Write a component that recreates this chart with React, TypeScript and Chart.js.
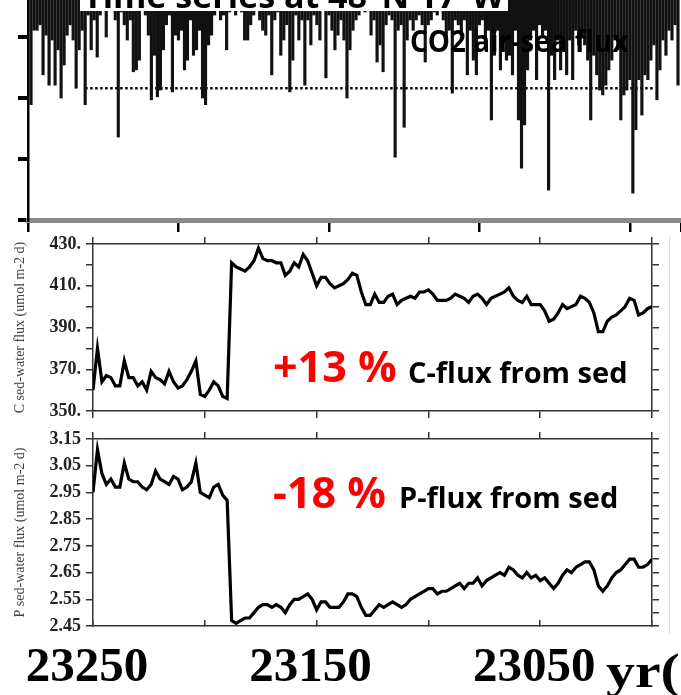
import React, { useEffect, useRef } from 'react';
import { Chart, registerables } from 'chart.js';

Chart.register(...registerables);

// ---------------- data ----------------
// CO2 air-sea flux (negative = uptake), one bar per time step
const TOP_FLUX = [
  -2.11, -0.89, -0.89, -0.80, -1.62, -0.97, -1.79, -1.05, -1.79, -1.21,
  -2.00, -1.46, -0.97, -0.80, -1.05, -1.84, -1.21, -0.89, -2.11, -0.64,
  -1.21, -0.72, -1.33, -0.64, -0.56, -1.00, -0.56, -0.48, -0.72, -2.64,
  -0.59, -0.80, -1.05, -0.72, -1.57, -1.54, -1.38, -0.56, -0.64, -0.97,
  -2.03, -1.30, -1.98, -1.87, -1.21, -0.80, -0.64, -1.90, -0.97, -1.05,
  -0.89, -1.54, -1.38, -0.72, -1.30, -1.21, -0.89, -2.00, -2.11, -1.13,
  -0.97, -0.64, -0.56, -0.72, -0.64, -1.21, -0.59, -0.56, -0.64, -0.52,
  -0.59, -1.05, -1.05, -0.80, -0.64, -0.56, -0.72, -0.89, -0.97, -0.64,
  -1.62, -0.72, -0.59, -1.30, -1.05, -0.80, -1.90, -1.38, -0.64, -1.05,
  -0.72, -1.79, -0.72, -1.13, -0.64, -0.80, -1.05, -0.56, -1.67, -0.64,
  -0.89, -1.21, -0.97, -0.72, -1.05, -2.00, -1.21, -0.89, -0.72, -0.64,
  -0.56, -0.59, -0.56, -0.97, -0.72, -1.41, -1.13, -1.57, -0.80, -0.64,
  -0.72, -2.97, -0.89, -0.80, -2.48, -1.05, -0.72, -0.89, -0.72, -0.64,
  -0.80, -1.41, -0.80, -0.72, -0.59, -0.64, -0.56, -0.72, -1.05, -0.89,
  -1.92, -0.72, -0.80, -0.97, -0.72, -1.62, -0.89, -1.38, -1.62, -0.80,
  -0.72, -1.13, -0.89, -2.36, -1.30, -0.89, -1.54, -1.05, -1.38, -1.30,
  -1.62, -0.89, -2.36, -3.15, -2.44, -1.54, -1.05, -0.89, -1.70, -0.80,
  -0.97, -0.89, -3.51, -1.30, -1.70, -1.05, -1.54, -1.21, -1.62, -1.05,
  -1.70, -0.89, -1.13, -0.97, -1.13, -1.38, -2.36, -1.30, -1.62, -1.87,
  -1.95, -1.79, -1.54, -1.38, -1.05, -1.21, -2.36, -1.95, -1.87, -1.70,
  -3.56, -2.52, -1.70, -2.28, -1.62, -1.70, -1.38, -1.13, -2.03, -1.54,
  -1.05, -1.30, -0.89, -1.05, -0.80, -1.79,
];
const TOP_INDEX = TOP_FLUX.map((_, i) => i + 1);
const TOP_X_MAX = 217;
const MEAN_FLUX = -1.84;
const MEAN_FROM = 19;
const MEAN_TO = 208;

// sediment-water fluxes, 2-year steps from 23250 to 23000
const YEARS = Array.from({ length: 126 }, (_, i) => 23250 - 2 * i);
const C_FLUX = [
  360, 380, 364, 367, 366, 362, 362, 374, 366, 366,
  362, 364, 360, 369, 366, 365, 363, 369, 364, 361,
  362, 365, 369, 374, 358, 357, 360, 364, 362, 357,
  356, 421, 419, 418, 417, 419, 422, 428, 423, 422,
  422, 421, 421, 415, 417, 421, 419, 425, 422, 416,
  410, 414, 414, 411, 409, 410, 411, 413, 416, 415,
  407, 401, 401, 406, 402, 402, 405, 406, 401, 403,
  404, 405, 404, 407, 407, 408, 406, 403, 403, 403,
  404, 406, 405, 404, 402, 405, 406, 404, 401, 404,
  405, 406, 407, 409, 405, 403, 402, 405, 401, 401,
  401, 398, 393, 394, 397, 401, 399, 400, 401, 405,
  404, 402, 397, 388, 388, 393, 395, 396, 398, 400,
  404, 403, 396, 397, 399, 400,
];
const P_FLUX = [
  2.95, 3.11, 3.02, 2.98, 3.00, 2.97, 2.97, 3.06, 3.00, 2.99,
  2.99, 2.97, 2.96, 2.98, 3.03, 3.00, 2.99, 2.98, 3.01, 3.00,
  2.96, 2.97, 2.99, 3.06, 2.95, 2.94, 2.93, 2.97, 2.98, 2.94,
  2.92, 2.47, 2.46, 2.47, 2.48, 2.48, 2.50, 2.52, 2.53, 2.53,
  2.52, 2.53, 2.52, 2.50, 2.53, 2.55, 2.55, 2.56, 2.57, 2.55,
  2.51, 2.54, 2.54, 2.52, 2.52, 2.52, 2.54, 2.57, 2.57, 2.56,
  2.52, 2.49, 2.49, 2.51, 2.53, 2.52, 2.53, 2.54, 2.53, 2.52,
  2.53, 2.55, 2.56, 2.57, 2.58, 2.59, 2.59, 2.57, 2.58, 2.58,
  2.59, 2.60, 2.61, 2.59, 2.61, 2.61, 2.63, 2.60, 2.62, 2.63,
  2.64, 2.65, 2.64, 2.67, 2.66, 2.64, 2.63, 2.65, 2.63, 2.64,
  2.62, 2.63, 2.61, 2.59, 2.61, 2.64, 2.66, 2.65, 2.67, 2.68,
  2.69, 2.69, 2.66, 2.60, 2.58, 2.60, 2.63, 2.65, 2.66, 2.68,
  2.70, 2.70, 2.67, 2.67, 2.68, 2.70,
];
const YEAR_MIN = 23000;
const YEAR_MAX = 23250;
const C_MIN = 350;
const C_MAX = 430;
const P_MIN = 2.45;
const P_MAX = 3.15;

// ---------------- helpers ----------------
type Note = { text: string; x: number; y: number; font: string; color: string; sx?: number; bg?: [number, number, number, number] };

const notesPlugin = (notes: Note[]) => ({
  id: 'notes',
  afterDraw(chart: any) {
    const c = chart.ctx as CanvasRenderingContext2D;
    c.save();
    notes.forEach((n) => {
      if (n.bg) {
        c.fillStyle = '#ffffff';
        c.fillRect(n.bg[0], n.bg[1], n.bg[2], n.bg[3]);
      }
      c.save();
      c.font = n.font;
      c.fillStyle = n.color;
      c.textAlign = 'left';
      c.textBaseline = 'alphabetic';
      c.translate(n.x, n.y);
      c.scale(n.sx || 1, 1);
      c.fillText(n.text, 0, 0);
      c.restore();
    });
    c.restore();
  },
});

function ChartCanvas({ make, left, top, width, height }: { make: () => any; left: number; top: number; width: number; height: number }) {
  const ref = useRef<HTMLCanvasElement>(null);
  useEffect(() => {
    const chart = new Chart(ref.current as HTMLCanvasElement, make());
    return () => chart.destroy();
  }, []);
  return (
    <canvas
      ref={ref}
      width={width}
      height={height}
      style={{ position: 'absolute', left, top, width, height, display: 'block' }}
    />
  );
}

const BOX = '#333333';
const SERIF = '"Liberation Serif", "Times New Roman", serif';
const SANS = '"Open Sans", "Noto Sans", sans-serif';

function boxAxisX(position: 'top' | 'bottom', h: number, tick: number) {
  return {
    type: 'linear',
    position,
    reverse: true,
    min: YEAR_MIN,
    max: YEAR_MAX,
    ticks: { display: false, stepSize: 50 },
    grid: { drawOnChartArea: false, drawTicks: true, tickLength: tick, color: BOX, lineWidth: 1.5 },
    border: { display: true, color: BOX, width: 1.5 },
    afterFit: (s: any) => { s.height = h; },
  };
}

function rightAxis(min: number, max: number, step: number) {
  return {
    position: 'right',
    min,
    max,
    ticks: { display: false, stepSize: step },
    grid: { drawOnChartArea: false, drawTicks: true, tickLength: 7, color: BOX, lineWidth: 1.5 },
    border: { display: true, color: BOX, width: 1.5 },
    afterFit: (s: any) => { s.width = 29; },
  };
}

// ---------------- charts ----------------
const makeTop = () => ({
  type: 'bar',
  data: {
    datasets: [
      {
        type: 'bar',
        label: 'CO2 air-sea flux',
        data: TOP_INDEX.map((x, i) => ({ x, y: TOP_FLUX[i] })),
        backgroundColor: '#111111',
        borderWidth: 0,
        barThickness: 2.5,
      },
      {
        type: 'line',
        label: 'mean',
        data: [{ x: MEAN_FROM, y: MEAN_FLUX }, { x: MEAN_TO, y: MEAN_FLUX }],
        borderColor: '#000',
        borderWidth: 2.5,
        borderDash: [2.5, 2.5],
        pointRadius: 0,
      },
    ],
  },
  options: {
    animation: false,
    responsive: false,
    maintainAspectRatio: false,
    layout: { padding: { left: 18, right: 0, top: 0, bottom: 0 } },
    plugins: { legend: { display: false }, tooltip: { enabled: false } },
    scales: {
      x: {
        type: 'linear',
        min: 0,
        max: TOP_X_MAX,
        offset: false,
        ticks: { display: false, stepSize: 50 },
        grid: { offset: false, drawOnChartArea: false, drawTicks: true, tickLength: 12, color: '#000', lineWidth: 2.5 },
        border: { display: true, color: '#8a8a8a', width: 5 },
        afterFit: (s: any) => { s.height = 16; },
      },
      y: {
        min: -4,
        max: 0,
        ticks: { display: false, stepSize: 1 },
        grid: { drawOnChartArea: false, drawTicks: true, tickLength: 10, color: '#000', lineWidth: 4 },
        border: { display: true, color: '#000', width: 2.5 },
        afterFit: (s: any) => { s.width = 10; },
      },
    },
  },
  plugins: [
    notesPlugin([
      { text: 'Time series at 48°N 17°W', x: 83, y: 32, font: `bold 34px ${SANS}`, color: '#000', bg: [80, 0, 428, 35] },
      { text: 'CO2 air-sea flux', x: 410, y: 76, font: `bold 31px ${SANS}`, color: '#000', sx: 0.9 },
    ]),
  ],
});

const makeMid = () => ({
  type: 'line',
  data: {
    datasets: [
      {
        label: 'C sed-water flux',
        data: YEARS.map((x, i) => ({ x, y: C_FLUX[i] })),
        borderColor: '#000',
        borderWidth: 3.2,
        pointRadius: 0,
        tension: 0,
      },
    ],
  },
  options: {
    animation: false,
    responsive: false,
    maintainAspectRatio: false,
    layout: { padding: 0 },
    plugins: { legend: { display: false }, tooltip: { enabled: false } },
    scales: {
      x: boxAxisX('bottom', 10, 7),
      x2: boxAxisX('top', 14, 7),
      y: {
        position: 'left',
        min: C_MIN,
        max: C_MAX,
        ticks: {
          stepSize: 10,
          padding: 5,
          color: '#222',
          font: { family: SERIF, size: 18, weight: 'bold', lineHeight: 1 },
          callback: (v: number) => (v % 20 === 10 ? `${v}.` : ''),
        },
        title: {
          display: true,
          text: 'C sed-water flux (umol m-2 d)',
          color: '#444',
          font: { family: SERIF, size: 14 },
          padding: { top: 12, bottom: 0 },
        },
        grid: { drawOnChartArea: false, drawTicks: true, tickLength: 7, color: BOX, lineWidth: 1.5 },
        border: { display: true, color: BOX, width: 1.5 },
        afterFit: (s: any) => { s.width = 93; },
      },
      y2: rightAxis(C_MIN, C_MAX, 10),
    },
  },
  plugins: [
    notesPlugin([
      { text: '+13 %', x: 273, y: 152, font: `bold 43px ${SANS}`, color: '#ff0000' },
      { text: 'C-flux from sed', x: 408, y: 153, font: `bold 29px ${SANS}`, color: '#000' },
    ]),
  ],
});

const makeBot = () => ({
  type: 'line',
  data: {
    datasets: [
      {
        label: 'P sed-water flux',
        data: YEARS.map((x, i) => ({ x, y: P_FLUX[i] })),
        borderColor: '#000',
        borderWidth: 3.2,
        pointRadius: 0,
        tension: 0,
      },
    ],
  },
  options: {
    animation: false,
    responsive: false,
    maintainAspectRatio: false,
    layout: { padding: 0 },
    plugins: { legend: { display: false }, tooltip: { enabled: false } },
    scales: {
      x: {
        type: 'linear',
        position: 'bottom',
        reverse: true,
        min: YEAR_MIN,
        max: YEAR_MAX,
        ticks: {
          stepSize: 50,
          autoSkip: false,
          maxRotation: 0,
          minRotation: 0,
          padding: 19,
          labelOffset: -6,
          color: '#000',
          font: { family: SERIF, size: 49, weight: 'bold' },
          callback: (v: number) => (v % 100 === 50 ? String(v) : ''),
        },
        grid: { drawOnChartArea: false, drawTicks: true, tickLength: -6, color: BOX, lineWidth: 1.5 },
        border: { display: true, color: BOX, width: 1.5 },
        afterFit: (s: any) => { s.height = 69; },
      },
      x2: boxAxisX('top', 14, 7),
      y: {
        position: 'left',
        min: P_MIN,
        max: P_MAX,
        ticks: {
          stepSize: 0.05,
          padding: 5,
          color: '#222',
          font: { family: SERIF, size: 18, weight: 'bold', lineHeight: 1 },
          callback: (v: number, i: number) => (i % 2 === 0 ? Number(v).toFixed(2) : ''),
        },
        title: {
          display: true,
          text: 'P sed-water flux (umol m-2 d)',
          color: '#444',
          font: { family: SERIF, size: 14 },
          padding: { top: 12, bottom: 0 },
        },
        grid: { drawOnChartArea: false, drawTicks: true, tickLength: 7, color: BOX, lineWidth: 1.5 },
        border: { display: true, color: BOX, width: 1.5 },
        afterFit: (s: any) => { s.width = 93; },
      },
      y2: rightAxis(P_MIN, P_MAX, 0.05),
    },
  },
  plugins: [
    notesPlugin([
      { text: '-18 %', x: 273, y: 83, font: `bold 43px ${SANS}`, color: '#ff0000' },
      { text: 'P-flux from sed', x: 399, y: 83, font: `bold 29px ${SANS}`, color: '#000' },
      { text: 'yr(', x: 606, y: 262, font: `bold 49px ${SERIF}`, color: '#000', sx: 1.18 },
    ]),
  ],
});

export default function App() {
  return (
    <div
      style={{
        position: 'absolute',
        left: 0,
        top: 0,
        width: 681,
        height: 695,
        overflow: 'hidden',
        background: '#ffffff',
      }}
    >
      <ChartCanvas make={makeTop} left={0} top={-24} width={681} height={260} />
      <ChartCanvas make={makeMid} left={0} top={230} width={681} height={195} />
      <ChartCanvas make={makeBot} left={0} top={425} width={681} height={270} />
      <div style={{ position: 'absolute', left: 669, top: 236, width: 1, height: 398, background: '#dddddd' }} />
    </div>
  );
}
